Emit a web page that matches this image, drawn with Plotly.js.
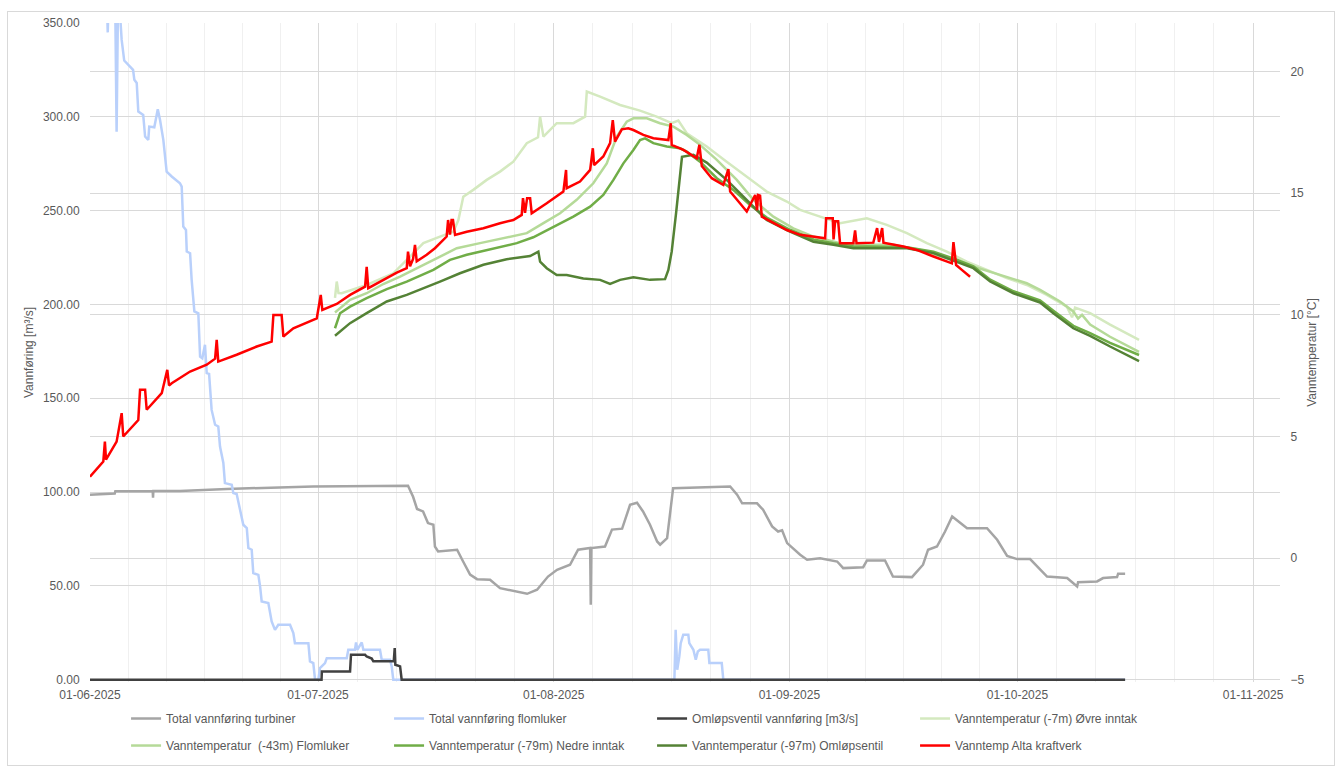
<!DOCTYPE html>
<html>
<head>
<meta charset="utf-8">
<script src="https://cdn.plot.ly/plotly-3.0.1.min.js"></script>
<style>
  html, body { margin: 0; padding: 0; background: #ffffff; }
  #wrap { position: relative; width: 1341px; height: 770px; }
  #chart { width: 1341px; height: 770px; }
  #frame { position: absolute; left: 7px; top: 11px; width: 1326px; height: 753px; border: 1px solid #d9d9d9; pointer-events: none; }
</style>
</head>
<body>
<div id="wrap"><div id="chart"></div><div id="frame"></div></div>
<script>
// ---------------- DATA ----------------
const monthTicks = ['2025-06-01', '2025-07-01', '2025-08-01', '2025-09-01', '2025-10-01', '2025-11-01'];
const leftTicks = [0, 50, 100, 150, 200, 250, 300, 350];
const rightTicks = [-5, 0, 5, 10, 15, 20];

const seriesNames = [
  'Total vannføring turbiner',
  'Total vannføring flomluker',
  'Omløpsventil vannføring [m3/s]',
  'Vanntemperatur (-7m) Øvre inntak',
  'Vanntemperatur  (-43m) Flomluker',
  'Vanntemperatur (-79m) Nedre inntak',
  'Vanntemperatur (-97m) Omløpsentil',
  'Vanntemp Alta kraftverk'
];

const turbDates = ['2025-06-01 00:00','2025-06-04 06:00','2025-06-04 08:00','2025-06-09 06:00','2025-06-09 07:00','2025-06-09 08:00','2025-06-12 20:00','2025-06-19 00:30','2025-06-30 08:00','2025-07-12 20:00','2025-07-13 12:00','2025-07-14 00:30','2025-07-14 19:30','2025-07-15 11:00','2025-07-16 04:00','2025-07-16 09:00','2025-07-16 19:00','2025-07-19 07:00','2025-07-20 02:00','2025-07-21 00:00','2025-07-21 22:00','2025-07-23 15:00','2025-07-24 22:30','2025-07-28 12:00','2025-07-29 19:30','2025-07-31 06:00','2025-08-01 10:30','2025-08-03 03:30','2025-08-04 05:00','2025-08-05 19:00','2025-08-05 21:00','2025-08-05 23:00','2025-08-07 18:00','2025-08-08 16:00','2025-08-10 00:00','2025-08-11 01:00','2025-08-11 23:00','2025-08-12 18:00','2025-08-13 16:00','2025-08-14 14:30','2025-08-15 00:00','2025-08-15 22:00','2025-08-16 17:00','2025-08-24 05:00','2025-08-25 03:00','2025-08-25 19:00','2025-08-27 18:00','2025-08-28 13:00','2025-08-29 17:30','2025-08-30 12:30','2025-08-31 01:00','2025-08-31 17:00','2025-09-02 10:00','2025-09-03 08:00','2025-09-05 01:00','2025-09-07 07:00','2025-09-08 02:00','2025-09-10 17:00','2025-09-11 05:00','2025-09-13 14:00','2025-09-14 15:00','2025-09-17 03:00','2025-09-18 14:00','2025-09-19 06:00','2025-09-20 10:00','2025-09-21 11:30','2025-09-22 10:00','2025-09-23 17:00','2025-09-24 09:00','2025-09-27 00:00','2025-09-28 08:00','2025-09-29 15:30','2025-09-30 23:00','2025-10-02 16:00','2025-10-03 14:00','2025-10-04 21:30','2025-10-07 13:00','2025-10-08 20:30','2025-10-08 23:30','2025-10-11 11:30','2025-10-12 06:30','2025-10-14 02:30','2025-10-14 06:00','2025-10-15 04:00'];
const turbValues = [98.6,99.2,100.5,100.6,97.0,100.6,100.6,101.7,103.0,103.4,97.5,91.0,89.7,83.5,82.6,71.0,68.4,69.3,63.0,56.0,53.6,53.3,48.8,45.8,48.0,55.0,58.6,61.3,69.3,70.2,40.0,70.2,71.0,80.0,80.5,93.2,94.3,89.7,82.6,73.7,72.0,75.5,102.1,103.0,98.6,94.0,94.0,90.6,81.7,79.0,79.6,72.8,66.6,64.0,64.8,63.0,59.5,60.0,63.6,63.6,55.0,54.7,61.3,69.3,71.0,79.0,87.0,82.6,80.8,80.8,74.6,66.0,64.3,64.3,60.4,55.0,54.2,49.7,52.0,52.4,54.2,54.7,56.5,56.5];

const flomDates = ['2025-06-01 00:00','2025-06-03 04:00','2025-06-03 08:00','2025-06-03 12:00','2025-06-04 07:00','2025-06-04 12:00','2025-06-04 17:00','2025-06-04 23:00','2025-06-05 04:00','2025-06-05 12:00','2025-06-06 12:00','2025-06-06 16:00','2025-06-06 20:00','2025-06-07 03:30','2025-06-07 08:30','2025-06-08 00:00','2025-06-08 06:00','2025-06-08 16:00','2025-06-08 19:00','2025-06-09 11:00','2025-06-09 22:00','2025-06-10 05:00','2025-06-10 15:30','2025-06-10 21:00','2025-06-11 02:00','2025-06-11 18:00','2025-06-12 20:00','2025-06-13 01:30','2025-06-13 06:30','2025-06-13 15:00','2025-06-13 17:30','2025-06-14 04:00','2025-06-14 09:00','2025-06-14 17:30','2025-06-15 06:00','2025-06-15 11:30','2025-06-15 18:30','2025-06-16 03:00','2025-06-16 08:30','2025-06-16 16:00','2025-06-17 00:00','2025-06-17 11:00','2025-06-17 21:00','2025-06-18 02:30','2025-06-18 13:00','2025-06-18 18:00','2025-06-19 15:30','2025-06-19 20:30','2025-06-20 07:00','2025-06-21 04:00','2025-06-21 15:00','2025-06-21 20:00','2025-06-22 06:30','2025-06-22 11:30','2025-06-23 03:30','2025-06-23 09:00','2025-06-23 14:00','2025-06-24 11:00','2025-06-24 21:30','2025-06-25 08:00','2025-06-25 18:30','2025-06-27 07:30','2025-06-27 18:00','2025-06-27 23:00','2025-06-29 17:30','2025-06-29 22:30','2025-06-30 09:00','2025-06-30 14:30','2025-07-01 01:00','2025-07-01 06:00','2025-07-01 22:00','2025-07-02 03:30','2025-07-04 18:30','2025-07-04 23:30','2025-07-05 20:30','2025-07-06 00:00','2025-07-06 04:00','2025-07-06 18:00','2025-07-06 23:00','2025-07-09 03:30','2025-07-09 09:00','2025-07-10 11:00','2025-07-10 16:30','2025-07-10 21:30','2025-08-16 21:00','2025-08-17 01:00','2025-08-17 06:00','2025-08-17 12:30','2025-08-17 17:00','2025-08-18 01:00','2025-08-18 17:00','2025-08-18 20:00','2025-08-19 09:00','2025-08-19 16:30','2025-08-19 23:00','2025-08-20 06:00','2025-08-21 08:00','2025-08-21 11:30','2025-08-23 02:30','2025-08-23 07:30','2025-10-15 04:00'];
const flomValues = [380,370,345,370,370,292,370,355,341,330,325.8,325,319.7,318,302.8,301,289.5,287.7,294.8,294.4,304,298.4,287.7,277,270.8,268.2,264.6,262.8,241.5,239.7,228.2,227.3,213,196.3,195.3,172.2,171.3,178.5,163.4,163,143.8,135.9,135,124.3,115.5,104.8,103.9,99.5,99,82.6,80.8,70.2,69.3,56.8,55.9,49.7,41.7,40.9,31.1,26.6,29.3,29.3,24.9,19.5,19.5,9.8,8.9,0,0,6.2,8.9,11.5,11.5,16,16,19.9,16,19.9,16,16,10.7,10.7,7.1,0,0,26.6,5.3,12.4,19.5,24,24,19.5,16,10.7,15.1,16,16,8.9,8.9,0,0];

const omlDates = ['2025-06-01 00:00','2025-07-01 11:00','2025-07-01 12:00','2025-07-05 05:00','2025-07-05 08:00','2025-07-07 04:30','2025-07-07 09:30','2025-07-08 01:30','2025-07-08 06:30','2025-07-10 23:00','2025-07-11 02:00','2025-07-11 04:00','2025-07-11 19:00','2025-07-12 00:00','2025-10-15 04:00'];
const omlValues = [0,0,4.4,4.4,13.3,13.3,12.4,11.3,9.8,9.8,16.9,8.0,7.1,0,0];

const t7Dates = ['2025-07-03 05:30','2025-07-03 11:00','2025-07-03 16:30','2025-07-04 02:30','2025-07-07 09:30','2025-07-10 21:30','2025-07-13 02:30','2025-07-14 20:30','2025-07-17 01:00','2025-07-18 19:00','2025-07-19 11:00','2025-07-20 02:30','2025-07-21 10:00','2025-07-23 04:30','2025-07-24 22:30','2025-07-26 16:30','2025-07-28 11:00','2025-07-29 22:30','2025-07-30 05:00','2025-07-30 15:30','2025-08-01 09:30','2025-08-03 14:00','2025-08-05 03:00','2025-08-05 08:30','2025-08-07 02:30','2025-08-09 17:30','2025-08-12 08:30','2025-08-14 13:00','2025-08-16 12:30','2025-08-17 09:30','2025-08-18 12:00','2025-08-21 03:00','2025-08-23 18:00','2025-08-26 09:30','2025-08-29 00:30','2025-08-31 16:00','2025-09-02 10:00','2025-09-05 01:00','2025-09-07 16:00','2025-09-11 04:30','2025-09-13 19:30','2025-09-16 11:00','2025-09-19 02:00','2025-09-21 17:00','2025-09-24 08:00','2025-09-26 23:30','2025-09-29 14:30','2025-10-02 05:30','2025-10-04 20:30','2025-10-07 12:00','2025-10-08 04:30','2025-10-08 14:00','2025-10-10 13:30','2025-10-13 04:30','2025-10-17 00:00'];
const t7Values = [10.7,11.37,10.9,10.89,11.23,11.71,12.4,12.95,13.22,13.42,13.9,14.86,15.14,15.55,15.89,16.3,17.06,17.3,18.15,17.33,17.88,17.88,18.15,19.18,18.97,18.63,18.4,18.15,17.88,17.99,17.47,16.92,16.3,15.68,15.07,14.66,14.32,14.04,13.77,13.97,13.7,13.36,12.95,12.6,12.19,11.85,11.51,11.23,10.82,10.34,9.9,10.3,10.07,9.6,8.97];

const t43Dates = ['2025-07-03 05:30','2025-07-05 05:00','2025-07-07 09:30','2025-07-09 14:00','2025-07-11 19:00','2025-07-14 10:00','2025-07-17 01:00','2025-07-19 06:00','2025-07-22 07:30','2025-07-25 09:00','2025-07-28 11:00','2025-07-30 15:30','2025-08-01 20:00','2025-08-04 00:30','2025-08-06 05:00','2025-08-07 23:30','2025-08-09 07:00','2025-08-10 14:30','2025-08-11 11:30','2025-08-13 06:00','2025-08-14 23:30','2025-08-16 18:00','2025-08-18 12:00','2025-08-20 06:00','2025-08-22 11:00','2025-08-25 02:00','2025-08-27 06:30','2025-08-29 21:30','2025-09-01 12:30','2025-09-04 04:00','2025-09-07 16:00','2025-09-11 04:30','2025-09-14 16:30','2025-09-18 05:00','2025-09-21 17:00','2025-09-25 05:00','2025-09-28 17:30','2025-10-02 05:30','2025-10-03 23:30','2025-10-06 14:30','2025-10-08 08:30','2025-10-08 23:30','2025-10-09 12:00','2025-10-10 13:30','2025-10-13 04:30','2025-10-17 00:00'];
const t43Values = [10.1,10.62,10.89,11.27,11.57,11.99,12.42,12.74,12.95,13.15,13.36,13.77,14.18,14.73,15.41,16.23,17.33,17.94,18.08,18.08,17.88,17.74,17.4,16.99,16.37,15.55,14.73,14.04,13.56,13.22,12.95,12.88,12.88,12.67,12.33,11.99,11.64,11.3,11.03,10.55,10.14,9.85,10.0,9.6,9.1,8.48];

const t79Dates = ['2025-07-03 05:30','2025-07-03 21:30','2025-07-05 05:00','2025-07-07 09:30','2025-07-10 01:00','2025-07-12 16:00','2025-07-16 04:00','2025-07-18 08:30','2025-07-20 13:30','2025-07-24 01:30','2025-07-27 03:30','2025-07-29 07:30','2025-07-31 23:00','2025-08-03 14:00','2025-08-05 19:00','2025-08-07 12:30','2025-08-08 20:30','2025-08-10 04:00','2025-08-11 11:30','2025-08-12 08:30','2025-08-13 00:30','2025-08-14 02:30','2025-08-15 21:00','2025-08-17 15:00','2025-08-18 12:00','2025-08-20 06:00','2025-08-22 11:00','2025-08-24 15:00','2025-08-26 20:00','2025-08-29 00:30','2025-09-01 02:00','2025-09-04 04:00','2025-09-06 19:00','2025-09-09 10:00','2025-09-12 22:30','2025-09-16 11:00','2025-09-19 23:00','2025-09-23 00:30','2025-09-25 05:00','2025-09-27 10:00','2025-09-30 11:30','2025-10-03 23:30','2025-10-05 17:30','2025-10-08 08:30','2025-10-10 13:30','2025-10-13 04:30','2025-10-17 00:00'];
const t79Values = [9.45,10.07,10.34,10.69,11.06,11.37,11.85,12.26,12.47,12.74,12.95,13.19,13.63,14.04,14.45,14.93,15.55,16.23,16.78,17.19,17.26,17.06,16.92,16.85,16.71,16.3,15.62,15.14,14.52,14.0,13.5,13.1,12.95,12.82,12.8,12.78,12.6,12.27,12.0,11.45,10.97,10.6,10.17,9.55,9.25,8.85,8.35];

const t97Dates = ['2025-07-03 05:30','2025-07-05 05:00','2025-07-07 09:30','2025-07-10 01:00','2025-07-12 16:00','2025-07-14 10:00','2025-07-17 01:00','2025-07-19 16:00','2025-07-22 18:00','2025-07-25 19:30','2025-07-28 21:30','2025-07-29 23:30','2025-07-30 05:00','2025-07-31 02:00','2025-08-01 09:30','2025-08-02 17:00','2025-08-04 21:30','2025-08-07 02:30','2025-08-08 10:00','2025-08-09 17:30','2025-08-11 11:30','2025-08-13 16:00','2025-08-15 15:30','2025-08-16 02:00','2025-08-16 12:30','2025-08-17 02:30','2025-08-17 12:00','2025-08-17 21:00','2025-08-19 09:00','2025-08-21 03:00','2025-08-23 18:00','2025-08-26 09:30','2025-08-29 00:30','2025-09-01 02:00','2025-09-04 04:00','2025-09-06 19:00','2025-09-09 10:00','2025-09-12 22:30','2025-09-16 11:00','2025-09-19 23:00','2025-09-23 00:30','2025-09-25 05:00','2025-09-27 10:00','2025-09-30 11:30','2025-10-03 23:30','2025-10-05 17:30','2025-10-08 08:30','2025-10-10 13:30','2025-10-13 04:30','2025-10-15 04:00','2025-10-17 00:00'];
const t97Values = [9.14,9.66,10.07,10.55,10.82,11.03,11.37,11.71,12.06,12.29,12.42,12.6,12.19,11.92,11.64,11.64,11.5,11.44,11.27,11.44,11.55,11.44,11.47,11.85,12.6,14.2,15.5,16.5,16.58,16.26,15.55,14.73,13.9,13.42,13.01,12.88,12.74,12.74,12.74,12.54,12.19,11.92,11.37,10.89,10.51,10.07,9.45,9.14,8.7,8.4,8.1];

const altaDates = ['2025-06-01 00:00','2025-06-02 18:00','2025-06-02 23:00','2025-06-03 02:30','2025-06-04 12:00','2025-06-05 04:00','2025-06-05 09:00','2025-06-07 08:30','2025-06-07 14:00','2025-06-08 06:00','2025-06-08 11:00','2025-06-10 10:30','2025-06-11 04:00','2025-06-11 09:30','2025-06-11 18:00','2025-06-14 04:00','2025-06-16 08:30','2025-06-17 11:00','2025-06-17 16:00','2025-06-17 21:00','2025-06-20 07:00','2025-06-22 22:30','2025-06-24 21:30','2025-06-25 03:00','2025-06-26 05:00','2025-06-26 10:30','2025-06-27 18:00','2025-06-29 22:30','2025-06-30 20:00','2025-07-01 08:30','2025-07-01 13:30','2025-07-03 11:00','2025-07-05 05:00','2025-07-07 04:30','2025-07-07 09:30','2025-07-07 14:30','2025-07-09 14:00','2025-07-11 08:30','2025-07-12 16:00','2025-07-12 20:00','2025-07-13 02:30','2025-07-13 12:00','2025-07-13 18:00','2025-07-13 23:30','2025-07-15 07:00','2025-07-16 09:00','2025-07-17 22:00','2025-07-18 02:30','2025-07-18 08:30','2025-07-18 13:30','2025-07-18 18:00','2025-07-19 00:30','2025-07-20 13:30','2025-07-22 18:00','2025-07-24 22:30','2025-07-26 16:30','2025-07-27 19:00','2025-07-27 23:00','2025-07-28 05:30','2025-07-28 12:00','2025-07-28 21:30','2025-07-29 02:30','2025-07-31 02:00','2025-08-02 06:30','2025-08-02 15:00','2025-08-02 17:00','2025-08-04 11:00','2025-08-05 19:00','2025-08-06 03:30','2025-08-06 07:30','2025-08-07 12:30','2025-08-08 10:00','2025-08-08 18:30','2025-08-08 22:30','2025-08-09 01:30','2025-08-09 23:00','2025-08-10 19:30','2025-08-11 11:30','2025-08-12 19:00','2025-08-14 02:30','2025-08-16 02:00','2025-08-16 09:30','2025-08-16 12:30','2025-08-18 01:30','2025-08-19 19:30','2025-08-20 04:00','2025-08-20 11:30','2025-08-21 19:00','2025-08-23 07:30','2025-08-23 23:30','2025-08-24 05:00','2025-08-25 12:00','2025-08-26 09:30','2025-08-27 12:00','2025-08-27 18:00','2025-08-27 21:00','2025-08-28 03:30','2025-08-28 09:00','2025-08-29 21:30','2025-08-31 16:00','2025-09-02 10:00','2025-09-04 04:00','2025-09-05 17:00','2025-09-05 20:00','2025-09-06 17:00','2025-09-06 19:30','2025-09-07 00:30','2025-09-07 10:00','2025-09-07 16:00','2025-09-09 10:00','2025-09-09 15:30','2025-09-09 20:00','2025-09-12 01:00','2025-09-12 13:00','2025-09-12 19:00','2025-09-13 05:00','2025-09-13 09:00','2025-09-16 00:00','2025-09-17 18:00','2025-09-19 23:00','2025-09-22 09:00','2025-09-22 14:00','2025-09-22 22:30','2025-09-23 16:30','2025-09-24 18:30'];
const altaValues = [3.35,3.97,4.79,4.05,4.79,5.96,5.0,5.68,6.92,6.92,6.1,6.78,7.74,7.1,7.19,7.67,7.95,8.2,8.97,8.08,8.36,8.7,8.9,10.0,10.0,9.11,9.45,9.73,9.86,10.82,10.2,10.45,10.82,11.16,11.98,11.1,11.44,11.74,11.92,12.6,12.0,12.3,12.88,12.2,12.47,12.74,13.22,13.9,13.3,13.9,13.9,13.29,13.42,13.56,13.77,13.9,14.11,14.8,14.2,14.8,14.8,14.18,14.59,15.07,15.96,15.21,15.48,15.96,16.85,16.16,16.51,17.06,18.01,17.5,17.12,17.63,17.67,17.6,17.4,17.26,17.19,17.88,16.99,16.78,16.44,16.99,16.12,15.62,15.34,15.99,15.07,14.59,14.25,14.93,14.3,14.93,14.9,14.04,13.77,13.49,13.29,13.22,13.15,13.97,13.97,13.1,13.85,13.85,12.95,12.95,13.47,12.95,12.97,13.57,13.0,13.57,12.97,12.81,12.67,12.4,12.12,12.99,12.05,11.85,11.57];

// ---------------- STYLE ----------------
const FONT = 'Liberation Sans, Arial, sans-serif';
const TXT = '#595959';
const GRID = '#d9d9d9';
const colors = ['#a5a5a5', '#b9d0fb', '#404040', '#d4e9bf', '#b5da98', '#70ad47', '#548235', '#ff0000'];
const widths = [2.5, 2.5, 2.5, 2.5, 2.5, 2.5, 2.5, 2.5];

// minor vertical gridlines: each month split into six equal parts
const minorVals = [];
for (let i = 0; i < monthTicks.length - 1; i++) {
  const a = Date.parse(monthTicks[i] + 'T00:00:00Z');
  const b = Date.parse(monthTicks[i + 1] + 'T00:00:00Z');
  for (let k = 1; k < 6; k++) minorVals.push(a + (b - a) * k / 6);
}

const xs = [turbDates, flomDates, omlDates, t7Dates, t43Dates, t79Dates, t97Dates, altaDates];
const ys = [turbValues, flomValues, omlValues, t7Values, t43Values, t79Values, t97Values, altaValues];
const traces = xs.map((x, i) => ({
  type: 'scatter', mode: 'lines', x: x, y: ys[i], name: seriesNames[i],
  yaxis: i >= 3 ? 'y2' : 'y',
  legend: i < 4 ? 'legend' : 'legend2',
  line: { color: colors[i], width: widths[i] },
  hoverinfo: 'x+y+name'
}));

const yMin = -1.2;
const y2Min = -5 + yMin * 27 / 350;

const legendBase = {
  orientation: 'h', xanchor: 'left', yanchor: 'top', x: 0.0303,
  entrywidth: 218, entrywidthmode: 'pixels',
  font: { family: FONT, size: 12, color: TXT },
  bgcolor: 'rgba(0,0,0,0)', traceorder: 'normal'
};

const layout = {
  width: 1341, height: 770,
  margin: { l: 90, r: 61, t: 23, b: 88, autoexpand: false },
  paper_bgcolor: '#ffffff', plot_bgcolor: '#ffffff',
  font: { family: FONT, size: 12, color: TXT },
  showlegend: true,
  xaxis: {
    type: 'date', range: ['2025-06-01 00:00', '2025-11-04 13:00'],
    tickmode: 'array', tickvals: monthTicks, tickformat: '%d-%m-%Y',
    showgrid: true, gridcolor: GRID, gridwidth: 1, zeroline: false, showline: false,
    ticks: 'outside', ticklen: 2, tickcolor: 'rgba(0,0,0,0)',
    tickfont: { family: FONT, size: 12, color: TXT },
    minor: { tickmode: 'array', tickvals: minorVals, showgrid: true, gridcolor: '#f0f0f0', gridwidth: 1, ticks: '' },
    automargin: false, fixedrange: true
  },
  yaxis: {
    range: [yMin, 350], tickmode: 'array', tickvals: leftTicks, tickformat: '.2f',
    showgrid: true, gridcolor: GRID, zeroline: false, showline: false,
    ticks: 'outside', ticklen: 7, tickcolor: 'rgba(0,0,0,0)',
    tickfont: { family: FONT, size: 12, color: TXT },
    title: { text: 'Vannføring [m³/s]', font: { family: FONT, size: 12, color: TXT }, standoff: 6 },
    automargin: false, fixedrange: true
  },
  yaxis2: {
    overlaying: 'y', side: 'right', range: [y2Min, 22], tickmode: 'array', tickvals: rightTicks,
    showgrid: true, gridcolor: GRID, zeroline: false, showline: false,
    ticks: 'outside', ticklen: 7, tickcolor: 'rgba(0,0,0,0)',
    tickfont: { family: FONT, size: 12, color: TXT },
    title: { text: 'Vanntemperatur [°C]', font: { family: FONT, size: 12, color: TXT }, standoff: 4 },
    automargin: false, fixedrange: true
  },
  legend: Object.assign({}, legendBase, { y: -0.0334 }),
  legend2: Object.assign({}, legendBase, { y: -0.0744 })
};

Plotly.newPlot('chart', traces, layout, { displayModeBar: false, staticPlot: true });
</script>
</body>
</html>
